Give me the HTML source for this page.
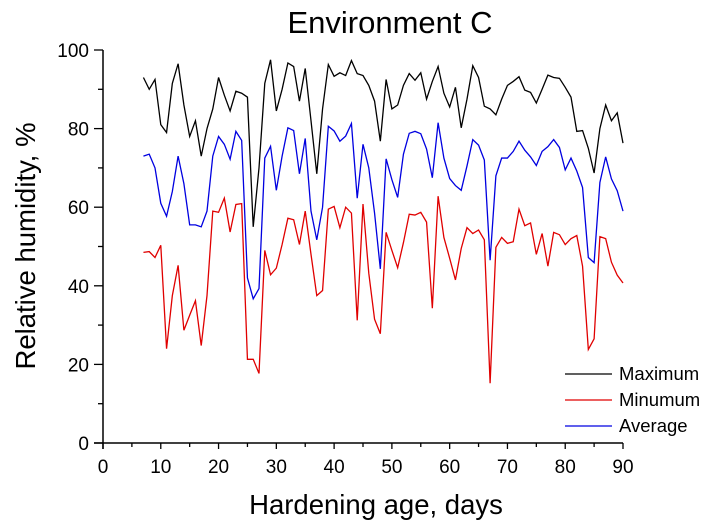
<!DOCTYPE html>
<html><head><meta charset="utf-8"><style>
body{margin:0;background:#fff;}
svg{display:block;font-family:"Liberation Sans",Arial,sans-serif;}
</style></head><body>
<svg id="chart" width="712" height="525" viewBox="0 0 712 525" xmlns="http://www.w3.org/2000/svg">
<text x="390" y="33" font-size="31" text-anchor="middle">Environment C</text>
<g id="axes"></g>
<g id="series"></g>
<text x="376" y="514" font-size="27.5" text-anchor="middle">Hardening age, days</text>
<text transform="translate(35,246) rotate(-90)" font-size="27.5" text-anchor="middle">Relative humidity, %</text>
<g>
<line x1="565" y1="374" x2="612" y2="374" stroke="#000" stroke-width="1.3"/>
<text x="619" y="380" font-size="18.5">Maximum</text>
<line x1="565" y1="400" x2="612" y2="400" stroke="#e00000" stroke-width="1.3"/>
<text x="619" y="406" font-size="18.5">Minumum</text>
<line x1="565" y1="426" x2="612" y2="426" stroke="#0000e0" stroke-width="1.3"/>
<text x="619" y="432" font-size="18.5">Average</text>
</g>
</svg>
<script>
const startDay = 7;
const maxValues = [93,90,92.5,81,79,91.5,96.5,86,78,82,73,80,85,93,88.5,84.5,89.5,89,88,55,70,91.5,97.5,84.5,90,96.7,95.8,87,95.3,82,68.5,85,96.3,93.3,94.2,93.5,97.3,94,93.5,91,87,76.8,92.5,85,86,91,94,92.3,94.2,87.5,92,95.8,89,85.5,90.5,80.2,87.5,96,93,85.7,85,83.5,87.5,91,92,93.2,89.8,89.2,86.5,90,93.6,93,92.8,90.5,88,79.3,79.5,75,68.7,80,86,82,84,76.3];
const minValues = [48.5,48.7,47.2,50.3,24,37.5,45.2,28.7,32.5,36.2,24.8,37.5,59,58.7,62.3,53.7,60.7,60.9,21.3,21.3,17.7,49,42.8,44.5,50.5,57.2,56.8,50.5,59,48,37.5,38.8,59.5,60.2,54.8,60,58.5,31.2,60.8,43.2,31.5,27.8,53.6,49,44.6,51,58.2,58,58.7,56.2,34.3,62.8,52.3,47,41.5,49.5,54.8,53.3,54.2,51.7,15.2,49.8,52.3,50.8,51.2,59.5,55.3,56,48,53.3,45,53.6,53,50.5,52,52.8,45,23.8,26.5,52.5,52,46,42.7,40.7];
const avgValues = [73,73.5,70,61,57.7,64,73,66,55.5,55.5,55,59,73,78,76,72.2,79.3,77,42,36.7,39.3,72.5,75.5,64.3,73,80.2,79.5,68.5,77.5,59,51.7,60,80.6,79.4,76.8,78.1,81.3,62.3,76,70,58.5,44.3,72.3,67,62.5,73.5,78.8,79.3,78.7,74.8,67.5,81.5,72.5,67.3,65.5,64.3,70.5,77.2,75.8,72,46.5,68,72.5,72.5,74.2,76.8,74.5,72.8,70.6,74.2,75.4,77.2,75.2,69.5,72.5,69.2,65,47.2,45.9,66.3,72.8,67.2,64.2,59];
const xTicks = [0,10,20,30,40,50,60,70,80,90];
const yTicks = [0,20,40,60,80,100];

const NS = "http://www.w3.org/2000/svg";
const X0=103, X1=623, Y0=443, Y1=50;
const xs = d => X0 + (d/90)*(X1-X0);
const ys = v => Y0 - (v/100)*(Y0-Y1);
function mk(tag, attrs, parent){const e=document.createElementNS(NS,tag);for(const k in attrs)e.setAttribute(k,attrs[k]);parent.appendChild(e);return e;}
const axes=document.getElementById('axes');
let e;
e=mk('line',{x1:X0-9,y1:Y0,x2:X1,y2:Y0,stroke:'#000','stroke-width':1.5},axes);


e=mk('line',{x1:X0,y1:Y0+6,x2:X0,y2:Y1,stroke:'#000','stroke-width':1.5},axes);


for(let d=0; d<=90; d+=5){
  const major = d%10===0;
  e=mk('line',{x1:xs(d),y1:Y0,x2:xs(d),y2:Y0+(major?6:4),stroke:'#000','stroke-width':1.3},axes);
  
  
}
xTicks.forEach(t=>{
  e=mk('text',{x:xs(t),y:Y0+30,'font-size':19,'text-anchor':'middle'},axes);
  e.textContent=t;
  
  
});
for(let v=0; v<=100; v+=10){
  const major = v%20===0;
  e=mk('line',{x1:X0-(major?9:5),y1:ys(v),x2:X0,y2:ys(v),stroke:'#000','stroke-width':1.3},axes);
  
  
}
yTicks.forEach(t=>{
  e=mk('text',{x:X0-14,y:ys(t)+7,'font-size':19,'text-anchor':'end'},axes);
  e.textContent=t;
  
  
});
const series=document.getElementById('series');
function drawLine(vals,color,name){
  const pts=vals.map((v,i)=>xs(startDay+i).toFixed(2)+','+ys(v).toFixed(2)).join(' ');
  const p=mk('polyline',{points:pts,fill:'none',stroke:color,'stroke-width':1.3,'stroke-linejoin':'miter'},series);
  
  
}
drawLine(maxValues,'#000','maximum-line');
drawLine(minValues,'#e00000','minimum-line');
drawLine(avgValues,'#0000e0','average-line');
</script>
</body></html>
